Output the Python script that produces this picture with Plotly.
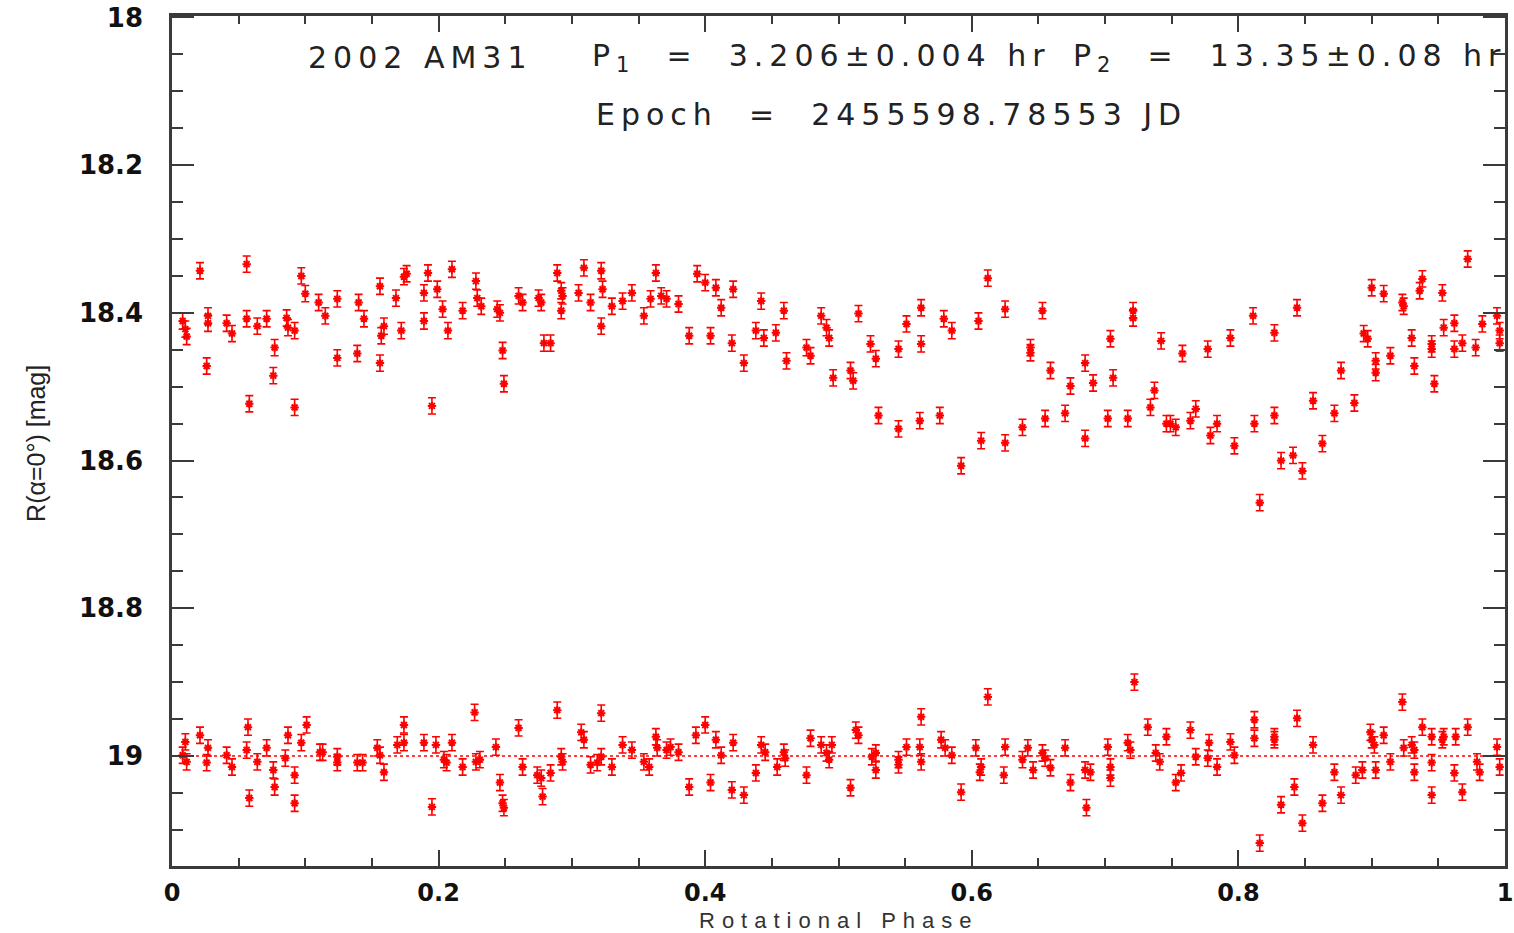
import plotly.graph_objects as go

# ---------------- data ----------------
upper_phase = [0.008, 0.010, 0.011, 0.021, 0.027, 0.027, 0.026, 0.041, 0.045, 0.056, 0.056, 0.058, 0.064, 0.071, 0.077, 0.076,
               0.086, 0.087, 0.092, 0.092, 0.097, 0.100, 0.110, 0.115, 0.124, 0.124, 0.140, 0.144, 0.139, 0.156, 0.157, 0.159,
               0.156, 0.168, 0.172, 0.176, 0.174, 0.189, 0.189, 0.192, 0.199, 0.203, 0.207, 0.195, 0.210, 0.218, 0.228, 0.229,
               0.232, 0.244, 0.246, 0.248, 0.249, 0.260, 0.263, 0.275, 0.277, 0.279, 0.284, 0.289, 0.292, 0.293, 0.292, 0.309,
               0.305, 0.314, 0.322, 0.323, 0.322, 0.330, 0.338, 0.345, 0.354, 0.359, 0.363, 0.367, 0.371, 0.380, 0.388, 0.394,
               0.400, 0.404, 0.408, 0.412, 0.421, 0.420, 0.429, 0.442, 0.438, 0.444, 0.453, 0.459, 0.461, 0.476, 0.479, 0.487,
               0.491, 0.493, 0.496, 0.509, 0.511, 0.515, 0.524, 0.528, 0.530, 0.545, 0.545, 0.551, 0.562, 0.562, 0.561, 0.576,
               0.579, 0.585, 0.592, 0.605, 0.607, 0.612, 0.625, 0.625, 0.638, 0.644, 0.644, 0.653, 0.655, 0.659, 0.670, 0.674,
               0.685, 0.685, 0.691, 0.702, 0.704, 0.706, 0.717, 0.721, 0.721, 0.734, 0.737, 0.742, 0.746, 0.749, 0.753, 0.758,
               0.764, 0.768, 0.777, 0.779, 0.784, 0.794, 0.797, 0.811, 0.812, 0.816, 0.827, 0.827, 0.832, 0.841, 0.844, 0.848,
               0.856, 0.863, 0.872, 0.877, 0.887, 0.894, 0.897, 0.900, 0.903, 0.903, 0.909, 0.914, 0.923, 0.924, 0.930, 0.932,
               0.936, 0.938, 0.945, 0.945, 0.947, 0.953, 0.954, 0.962, 0.962, 0.968, 0.972, 0.978, 0.983, 0.994, 0.996, 0.996]
upper_mag = [18.411, 18.422, 18.432, 18.343, 18.404, 18.414, 18.472, 18.414, 18.428, 18.334, 18.408, 18.523, 18.418, 18.408, 18.447, 18.485,
             18.407, 18.420, 18.424, 18.528, 18.350, 18.374, 18.386, 18.404, 18.381, 18.461, 18.386, 18.408, 18.455, 18.364, 18.431, 18.418,
             18.468, 18.380, 18.424, 18.347, 18.351, 18.373, 18.411, 18.346, 18.368, 18.395, 18.424, 18.526, 18.341, 18.397, 18.357, 18.380,
             18.391, 18.395, 18.400, 18.451, 18.496, 18.377, 18.386, 18.380, 18.386, 18.441, 18.441, 18.346, 18.370, 18.377, 18.397, 18.339,
             18.373, 18.386, 18.343, 18.368, 18.418, 18.391, 18.384, 18.373, 18.404, 18.381, 18.346, 18.377, 18.381, 18.388, 18.431, 18.347,
             18.359, 18.431, 18.366, 18.393, 18.368, 18.441, 18.468, 18.384, 18.424, 18.434, 18.427, 18.397, 18.465, 18.447, 18.458, 18.404,
             18.420, 18.434, 18.488, 18.478, 18.492, 18.401, 18.442, 18.462, 18.539, 18.449, 18.557, 18.415, 18.393, 18.442, 18.546, 18.539,
             18.408, 18.424, 18.607, 18.411, 18.573, 18.353, 18.395, 18.576, 18.555, 18.447, 18.454, 18.397, 18.543, 18.478, 18.536, 18.499,
             18.468, 18.570, 18.495, 18.543, 18.435, 18.488, 18.543, 18.397, 18.407, 18.528, 18.505, 18.438, 18.550, 18.550, 18.555, 18.455,
             18.546, 18.530, 18.449, 18.566, 18.550, 18.434, 18.580, 18.404, 18.550, 18.657, 18.427, 18.539, 18.600, 18.593, 18.393, 18.614,
             18.519, 18.577, 18.536, 18.478, 18.522, 18.428, 18.435, 18.366, 18.465, 18.481, 18.374, 18.458, 18.386, 18.391, 18.434, 18.472,
             18.370, 18.354, 18.442, 18.449, 18.496, 18.373, 18.420, 18.414, 18.449, 18.441, 18.327, 18.447, 18.415, 18.404, 18.441, 18.424]

lower_phase = [0.010, 0.008, 0.011, 0.021, 0.027, 0.026, 0.041, 0.045, 0.057, 0.056, 0.058, 0.064, 0.071, 0.076, 0.077, 0.087,
               0.085, 0.092, 0.092, 0.097, 0.101, 0.111, 0.113, 0.124, 0.124, 0.139, 0.143, 0.154, 0.156, 0.159, 0.169, 0.174,
               0.174, 0.189, 0.198, 0.195, 0.204, 0.206, 0.210, 0.218, 0.227, 0.228, 0.231, 0.243, 0.246, 0.248, 0.249, 0.260,
               0.263, 0.274, 0.277, 0.278, 0.284, 0.289, 0.292, 0.293, 0.307, 0.309, 0.314, 0.322, 0.322, 0.319, 0.330, 0.338,
               0.345, 0.354, 0.358, 0.363, 0.364, 0.371, 0.374, 0.380, 0.388, 0.393, 0.400, 0.404, 0.408, 0.412, 0.420, 0.421,
               0.429, 0.438, 0.442, 0.445, 0.454, 0.459, 0.460, 0.476, 0.479, 0.487, 0.491, 0.493, 0.495, 0.509, 0.513, 0.515,
               0.525, 0.528, 0.528, 0.545, 0.545, 0.551, 0.562, 0.561, 0.562, 0.577, 0.580, 0.585, 0.592, 0.603, 0.607, 0.606,
               0.612, 0.625, 0.624, 0.638, 0.642, 0.646, 0.653, 0.655, 0.659, 0.670, 0.674, 0.685, 0.689, 0.686, 0.702, 0.704,
               0.704, 0.717, 0.719, 0.722, 0.732, 0.738, 0.741, 0.746, 0.753, 0.757, 0.764, 0.768, 0.778, 0.777, 0.784, 0.794,
               0.797, 0.812, 0.812, 0.816, 0.827, 0.827, 0.832, 0.842, 0.844, 0.848, 0.856, 0.863, 0.872, 0.877, 0.888, 0.893,
               0.899, 0.900, 0.903, 0.902, 0.909, 0.914, 0.923, 0.924, 0.930, 0.932, 0.932, 0.938, 0.945, 0.945, 0.945, 0.953,
               0.954, 0.962, 0.963, 0.968, 0.972, 0.979, 0.981, 0.994, 0.996]
lower_mag = [18.981, 18.999, 19.008, 18.972, 18.989, 19.009, 18.999, 19.015, 18.961, 18.992, 19.057, 19.008, 18.989, 19.019, 19.042, 18.972,
             19.003, 19.026, 19.064, 18.982, 18.958, 18.995, 18.995, 19.001, 19.009, 19.009, 19.009, 18.989, 18.999, 19.022, 18.985, 18.982,
             18.958, 18.982, 18.985, 19.069, 19.005, 19.009, 18.982, 19.015, 18.941, 19.008, 19.005, 18.988, 19.036, 19.064, 19.070, 18.962,
             19.015, 19.026, 19.030, 19.055, 19.023, 18.938, 19.001, 19.008, 18.968, 18.978, 19.012, 18.942, 19.001, 19.009, 19.015, 18.985,
             18.992, 19.008, 19.015, 18.974, 18.989, 18.992, 18.988, 18.995, 19.042, 18.972, 18.958, 19.036, 18.978, 18.999, 19.046, 18.982,
             19.053, 19.023, 18.985, 18.995, 19.015, 18.995, 19.003, 19.026, 18.976, 18.985, 18.996, 19.005, 18.985, 19.043, 18.965, 18.972,
             19.001, 18.996, 19.019, 19.005, 19.012, 18.988, 18.947, 18.988, 19.008, 18.978, 18.989, 18.999, 19.049, 18.989, 19.015, 19.022,
             18.920, 18.988, 19.026, 19.005, 18.989, 19.019, 18.996, 19.003, 19.016, 18.989, 19.036, 19.019, 19.022, 19.070, 18.988, 19.015,
             19.030, 18.982, 18.992, 18.900, 18.961, 18.996, 19.008, 18.974, 19.036, 19.023, 18.965, 19.001, 18.982, 19.003, 19.015, 18.981,
             18.999, 18.951, 18.976, 19.118, 18.974, 18.978, 19.066, 19.042, 18.949, 19.091, 18.985, 19.064, 19.022, 19.053, 19.026, 19.019,
             18.968, 18.978, 19.019, 18.985, 18.972, 19.008, 18.927, 18.989, 18.985, 18.992, 19.022, 18.961, 19.009, 19.053, 18.974, 18.978,
             18.974, 19.023, 18.974, 19.049, 18.961, 19.008, 19.022, 18.988, 19.015]

mag_error = 0.011
reference_mag = 19.0
reference_phase = [0.0, 1.0]

x_tickvals = [0, 0.2, 0.4, 0.6, 0.8, 1.0]
x_ticktext = ["0", "0.2", "0.4", "0.6", "0.8", "1"]
y_tickvals = [18.0, 18.2, 18.4, 18.6, 18.8, 19.0]
y_ticktext = ["18", "18.2", "18.4", "18.6", "18.8", "19"]

RED = "#ff0000"
AXIS = "#3a3a3a"

fig = go.Figure()

fig.add_trace(go.Scatter(
    x=reference_phase, y=[reference_mag, reference_mag], mode="lines",
    line=dict(color=RED, width=1.5, dash="dot"), hoverinfo="skip", showlegend=False))

for xs, ys in [(upper_phase, upper_mag), (lower_phase, lower_mag)]:
    fig.add_trace(go.Scatter(
        x=xs, y=ys, mode="markers",
        marker=dict(symbol="asterisk-open", size=7, color=RED, line=dict(color=RED, width=2)),
        error_y=dict(type="constant", value=mag_error, color=RED, thickness=1.6, width=4),
        showlegend=False))

label_font = dict(family="DejaVu Sans", size=30, color="#222222")
spacing = "letter-spacing:6px"
annos = [
    ("2002 AM31", 0.186, 0.951),
    ("P<sub>1</sub> = 3.206±0.004 hr", 0.487, 0.951),
    ("P<sub>2</sub> = 13.35±0.08 hr", 0.838, 0.951),
    ("Epoch = 2455598.78553 JD", 0.540, 0.884),
]
for txt, ax_, ay_ in annos:
    fig.add_annotation(text=f'<span style="{spacing}">{txt.replace(" = ", "&nbsp;&nbsp;=&nbsp;&nbsp;")}</span>',
                       x=ax_, y=ay_, xref="paper", yref="paper", xanchor="center", yanchor="middle",
                       showarrow=False, font=label_font)

fig.add_annotation(text='<span style="letter-spacing:7px">Rotational Phase</span>',
                   x=0.5, y=-0.064, xref="paper", yref="paper", xanchor="center", yanchor="middle",
                   showarrow=False, font=dict(family="Liberation Sans Narrow, Liberation Sans, Arial", size=22, color="#333333"))
fig.add_annotation(text='R(α=0°) [mag]', textangle=-90,
                   x=-0.1025, y=0.497, xref="paper", yref="paper", xanchor="center", yanchor="middle",
                   showarrow=False, font=dict(family="Liberation Sans Narrow, Liberation Sans, Arial", size=25, color="#222222"))

fig.update_xaxes(range=[0, 1], tickvals=x_tickvals, ticktext=x_ticktext, automargin=False,
                 ticklabeloverflow="allow",
                 ticks="inside", ticklen=16, tickwidth=2, tickcolor=AXIS,
                 minor=dict(dtick=0.05, ticks="inside", ticklen=8, tickwidth=1.5, tickcolor=AXIS),
                 showline=True, linecolor=AXIS, linewidth=2.5, mirror="ticks",
                 showgrid=False, zeroline=False, ticklabelstandoff=3,
                 tickfont=dict(family="DejaVu Sans", size=24, color="#111111", weight="bold"))
fig.update_yaxes(range=[19.149, 17.998], tickvals=y_tickvals, ticktext=y_ticktext, automargin=False,
                 ticks="inside", ticklen=22, tickwidth=2, tickcolor=AXIS,
                 minor=dict(dtick=0.05, tick0=18.0, ticks="inside", ticklen=11, tickwidth=1.5, tickcolor=AXIS),
                 showline=True, linecolor=AXIS, linewidth=2.5, mirror="ticks",
                 showgrid=False, zeroline=False, ticklabelstandoff=21,
                 tickfont=dict(family="DejaVu Sans", size=26, color="#111111", weight="bold"))

fig.update_layout(width=1514, height=933, margin=dict(l=172, r=9, t=16, b=67),
                  paper_bgcolor="white", plot_bgcolor="white", showlegend=False)

fig.write_html("out.html")
